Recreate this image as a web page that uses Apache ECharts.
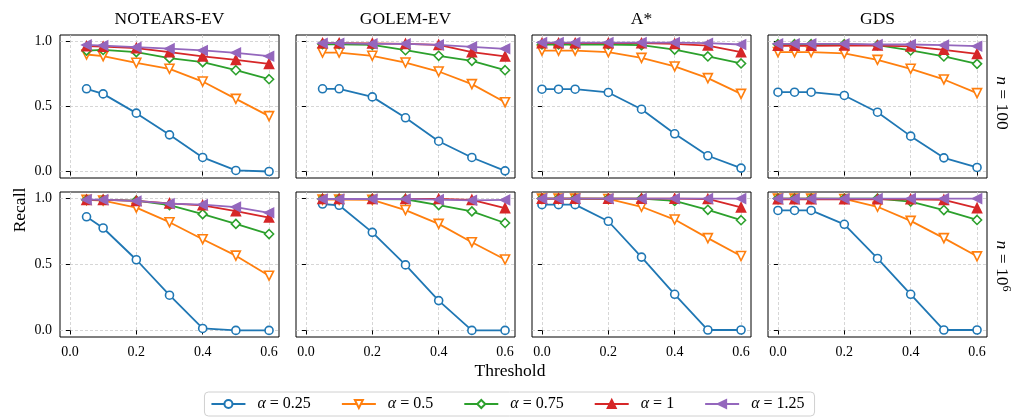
<!DOCTYPE html>
<html><head><meta charset="utf-8">
<script src="https://cdn.jsdelivr.net/npm/echarts@6/dist/echarts.min.js"></script>
<style>html,body{margin:0;padding:0;background:#fff}#c{width:1015px;height:417px}</style>
</head><body><div id="c"></div>
<script>
const methods = ['NOTEARS-EV', 'GOLEM-EV', 'A*', 'GDS'];
const alphaLabels = ['0.25', '0.5', '0.75', '1', '1.25'];
const thrShort = [0.05, 0.1, 0.2, 0.3, 0.4, 0.5, 0.6];
const thrLong = [0.0, 0.05, 0.1, 0.2, 0.3, 0.4, 0.5, 0.6];
const xTicks = [0, 0.2, 0.4, 0.6];
const yTicks = [0, 0.5, 1];

// rows: alpha 0.25, 0.5, 0.75, 1, 1.25
const notears100 = [
  [0.636, 0.597, 0.449, 0.282, 0.108, 0.008, 0.0],
  [0.900, 0.887, 0.836, 0.790, 0.692, 0.559, 0.426],
  [0.930, 0.935, 0.918, 0.872, 0.841, 0.779, 0.710],
  [0.964, 0.960, 0.949, 0.918, 0.885, 0.859, 0.828],
  [0.974, 0.969, 0.956, 0.945, 0.931, 0.913, 0.887]
];
const golem100 = [
  [0.636, 0.636, 0.574, 0.413, 0.233, 0.108, 0.005],
  [0.915, 0.915, 0.890, 0.838, 0.769, 0.672, 0.533],
  [0.979, 0.979, 0.974, 0.933, 0.890, 0.851, 0.779],
  [0.987, 0.987, 0.985, 0.982, 0.974, 0.918, 0.885],
  [0.987, 0.987, 0.982, 0.982, 0.974, 0.959, 0.944]
];
const astar100 = [
  [0.633, 0.633, 0.633, 0.608, 0.479, 0.290, 0.121, 0.026],
  [0.930, 0.930, 0.930, 0.918, 0.874, 0.808, 0.718, 0.597],
  [0.977, 0.977, 0.977, 0.977, 0.972, 0.938, 0.885, 0.831],
  [0.987, 0.987, 0.987, 0.987, 0.987, 0.982, 0.969, 0.918],
  [0.992, 0.992, 0.992, 0.992, 0.992, 0.992, 0.987, 0.977]
];
const gds100 = [
  [0.610, 0.610, 0.610, 0.585, 0.456, 0.272, 0.105, 0.031],
  [0.918, 0.918, 0.918, 0.908, 0.859, 0.790, 0.708, 0.603],
  [0.979, 0.979, 0.979, 0.979, 0.972, 0.931, 0.885, 0.828],
  [0.967, 0.967, 0.967, 0.969, 0.969, 0.962, 0.936, 0.905],
  [0.982, 0.982, 0.982, 0.982, 0.977, 0.977, 0.972, 0.964]
];
const notears1e6 = [
  [0.862, 0.777, 0.536, 0.267, 0.015, 0.0, 0.0],
  [0.990, 0.985, 0.931, 0.821, 0.692, 0.567, 0.415],
  [0.990, 0.990, 0.985, 0.951, 0.882, 0.808, 0.731],
  [0.990, 0.990, 0.982, 0.964, 0.949, 0.905, 0.856],
  [0.992, 0.992, 0.982, 0.962, 0.954, 0.936, 0.892]
];
const golem1e6 = [
  [0.959, 0.949, 0.744, 0.497, 0.226, 0.0, 0.0],
  [0.992, 0.992, 0.990, 0.913, 0.808, 0.669, 0.538],
  [0.997, 0.997, 0.997, 0.995, 0.951, 0.903, 0.815],
  [0.997, 0.997, 0.997, 0.997, 0.997, 0.990, 0.928],
  [0.997, 0.997, 0.997, 0.997, 0.992, 0.987, 0.990]
];
const astar1e6 = [
  [0.954, 0.954, 0.954, 0.828, 0.556, 0.274, 0.003, 0.003],
  [1.0, 1.0, 1.0, 0.997, 0.938, 0.841, 0.700, 0.564],
  [1.0, 1.0, 1.0, 1.0, 1.0, 0.982, 0.915, 0.836],
  [1.0, 1.0, 1.0, 1.0, 1.0, 1.0, 0.997, 0.933],
  [1.0, 1.0, 1.0, 1.0, 1.0, 1.0, 1.0, 1.0]
];
const gds1e6 = [
  [0.910, 0.910, 0.910, 0.805, 0.546, 0.274, 0.003, 0.003],
  [1.0, 1.0, 1.0, 0.997, 0.938, 0.831, 0.700, 0.562],
  [1.0, 1.0, 1.0, 1.0, 1.0, 0.977, 0.913, 0.838],
  [0.995, 0.995, 0.995, 0.995, 0.995, 0.995, 0.990, 0.928],
  [1.0, 1.0, 1.0, 1.0, 1.0, 1.0, 1.0, 1.0]
];

const panels = [
  [notears100, thrShort], [golem100, thrShort], [astar100, thrLong], [gds100, thrLong],
  [notears1e6, thrShort], [golem1e6, thrShort], [astar1e6, thrLong], [gds1e6, thrLong]
];

const colors = ['#1f77b4', '#ff7f0e', '#2ca02c', '#d62728', '#9467bd'];
const symbols = ['circle', 'triangle', 'diamond', 'triangle', 'triangle'];
const rotates = [0, 180, 0, 0, 90];
const hollow = [true, true, true, false, false];
const sizes = [8, 9, 9, 9, 9];
const FONT = 'Liberation Serif';

const lefts = [60, 296, 532, 768];
const tops = [35, 192];
const W = 219, H = [143, 145];

const grids = [], xAxes = [], yAxes = [], series = [];
panels.forEach((p, idx) => {
  const row = Math.floor(idx / 4), col = idx % 4;
  grids.push({left: lefts[col], top: tops[row], width: W, height: H[row],
    show: true, borderColor: '#000', borderWidth: 1, containLabel: false});
  xAxes.push({type: 'value', gridIndex: idx, min: -0.03, max: 0.63,
    axisLine: {show: false},
    axisTick: {show: true, customValues: xTicks, length: 4, inside: false, lineStyle: {color: '#000', width: 1}},
    axisLabel: {show: row === 1, customValues: xTicks, color: '#000', fontFamily: FONT, fontSize: 14, margin: 8,
      formatter: v => v.toFixed(1)},
    splitLine: {show: true, lineStyle: {color: '#cccccc', type: [3, 2], width: 0.8}}
  });
  yAxes.push({type: 'value', gridIndex: idx, min: -0.05, max: 1.05,
    axisLine: {show: false},
    axisTick: {show: true, customValues: yTicks, length: 4, inside: false, lineStyle: {color: '#000', width: 1}},
    axisLabel: {show: col === 0, customValues: yTicks, color: '#000', fontFamily: FONT, fontSize: 14, margin: 8,
      formatter: v => v.toFixed(1)},
    splitLine: {show: true, lineStyle: {color: '#cccccc', type: [3, 2], width: 0.8}}
  });
  const vals = p[0], thr = p[1];
  vals.forEach((arr, k) => {
    series.push({
      name: 'α=' + alphaLabels[k], type: 'line', xAxisIndex: idx, yAxisIndex: idx,
      data: thr.map((x, i) => [x, arr[i]]),
      symbol: symbols[k], symbolRotate: rotates[k], symbolSize: sizes[k], showSymbol: true,
      lineStyle: {color: colors[k], width: 1.8},
      itemStyle: {color: hollow[k] ? '#ffffff' : colors[k], borderColor: colors[k], borderWidth: 1.6},
      z: 2 + k, animation: false, silent: true
    });
  });
});

const titles = methods.map((m, i) => ({type: 'text', x: lefts[i] + W / 2, y: 19,
  style: {text: m, font: '17.5px "Liberation Serif"', fill: '#000', align: 'center', verticalAlign: 'middle'}}));

const chart = echarts.init(document.getElementById('c'), null, {renderer: 'canvas'});
chart.setOption({
  animation: false,
  backgroundColor: '#fff',
  grid: grids, xAxis: xAxes, yAxis: yAxes, series: series,
  legend: {
    data: alphaLabels.map(a => 'α=' + a),
    top: 392, left: 'center', orient: 'horizontal',
    itemWidth: 34, itemHeight: 10, itemGap: 30,
    borderColor: '#d0d0d0', borderWidth: 1, borderRadius: 4, padding: [4, 10, 4, 6],
    formatter: n => '{a|α}{b| = ' + n.slice(2) + '}',
    textStyle: {color: '#000', fontFamily: FONT, fontSize: 16,
      rich: {a: {fontStyle: 'italic', fontFamily: FONT, fontSize: 16, padding: [0, 0, 0, 7]}, b: {fontFamily: FONT, fontSize: 16}}}
  },
  graphic: titles.concat([
    {type: 'text', x: 20, y: 210, rotation: Math.PI / 2,
      style: {text: 'Recall', font: '17.5px "Liberation Serif"', fill: '#000', align: 'center', verticalAlign: 'middle'}},
    {type: 'text', x: 510, y: 371,
      style: {text: 'Threshold', font: '17.5px "Liberation Serif"', fill: '#000', align: 'center', verticalAlign: 'middle'}},
    {type: 'text', x: 1002, y: 103, rotation: -Math.PI / 2,
      style: {text: '{i|n}{r| = 100}', align: 'center', verticalAlign: 'middle', fill: '#000',
        rich: {i: {fontStyle: 'italic', fontFamily: FONT, fontSize: 17.5}, r: {fontFamily: FONT, fontSize: 17.5}}}},
    {type: 'text', x: 1002, y: 266, rotation: -Math.PI / 2,
      style: {text: '{i|n}{r| = 10}{s|6}', align: 'center', verticalAlign: 'middle', fill: '#000',
        rich: {i: {fontStyle: 'italic', fontFamily: FONT, fontSize: 17.5, lineHeight: 20},
               r: {fontFamily: FONT, fontSize: 17.5, lineHeight: 20},
               s: {fontFamily: FONT, fontSize: 12, verticalAlign: 'top', lineHeight: 20, padding: [0, 0, 8, 0]}}}}
  ])
});
</script>
</body></html>
